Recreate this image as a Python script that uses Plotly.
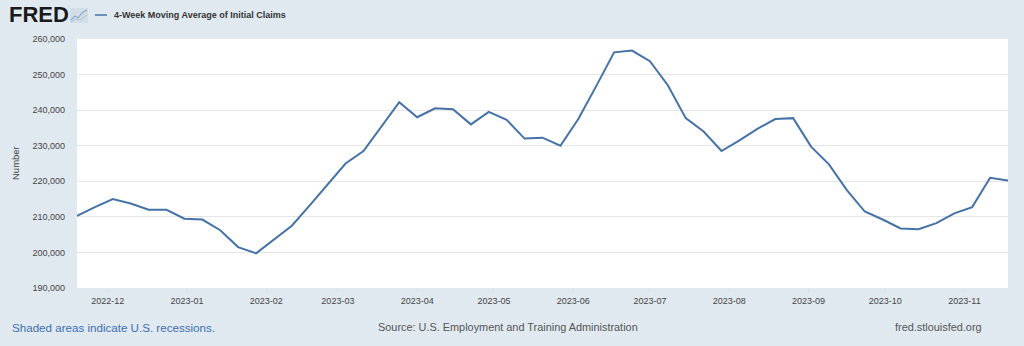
import pandas as pd
import plotly.graph_objects as go

# Weekly observations (week ending Saturday), 4-week moving average of initial claims
start_week = "2022-11-19"
n_weeks = 53
claims = [
    210250, 212750, 215000, 213750, 212000, 212000, 209500, 209250, 206250, 201500,
    199750, 203500, 207500, 213250, 219000, 225000, 228500, 235500, 242250, 238000,
    240500, 240250, 236000, 239500, 237250, 232000, 232250, 230000, 237500, 246750,
    256250, 256750, 253750, 247000, 237750, 234000, 228500, 231500, 234750, 237500,
    237750, 229750, 224750, 217500, 211500, 209250, 206750, 206500, 208250, 211000,
    212750, 221000, 220250,
]
weeks = pd.date_range(start_week, periods=n_weeks, freq="7D")

series_name = "4-Week Moving Average of Initial Claims"
y_title = "Number"
y_range = [190000, 260000]
x_range = ["2022-11-19", "2023-11-18"]
footer_left = "Shaded areas indicate U.S. recessions."
footer_mid = "Source: U.S. Employment and Training Administration"
footer_right = "fred.stlouisfed.org"

W, H = 1024, 346
ML, MR, MT, MB = 77, 16, 39, 58
PW, PH = W - ML - MR, H - MT - MB

FONT = "Liberation Sans, Arial, sans-serif"
LINE_BLUE = "#4572a7"
BG = "#e1e9f0"


def px(x):
    return (x - ML) / PW


def py(y):
    return (H - MB - y) / PH


fig = go.Figure()
fig.add_trace(go.Scatter(
    x=weeks, y=claims, mode="lines",
    line=dict(color=LINE_BLUE, width=2),
    name=series_name, showlegend=False,
))

shapes = [
    # legend swatch
    dict(type="line", xref="paper", yref="paper",
         x0=px(95), x1=px(107), y0=py(15), y1=py(15),
         line=dict(color=LINE_BLUE, width=1.5)),
    # small graph icon beside the logo
    dict(type="rect", xref="paper", yref="paper",
         x0=px(70), x1=px(88), y0=py(23), y1=py(8),
         fillcolor="#d3dde8", line=dict(width=0)),
    dict(type="path", xref="paper", yref="paper",
         path=f"M {px(71)},{py(20)} L {px(75)},{py(16)} L {px(78)},{py(18)} L {px(82)},{py(13)} L {px(87)},{py(10)}",
         line=dict(color="#8fa9c6", width=1.2)),
    dict(type="path", xref="paper", yref="paper",
         path=f"M {px(71)},{py(22)} L {px(76)},{py(19)} L {px(80)},{py(20)} L {px(87)},{py(15)}",
         line=dict(color="#b5c3d1", width=1)),
]

annotations = [
    dict(text="<b>FRED</b>", x=px(7), y=py(14), xref="paper", yref="paper",
         xanchor="left", yanchor="middle", showarrow=False,
         font=dict(family=FONT, size=22, color="#1b1b1b")),
    dict(text=f"<b>{series_name}</b>", x=px(112), y=py(15), xref="paper", yref="paper",
         xanchor="left", yanchor="middle", showarrow=False,
         font=dict(family=FONT, size=9, color="#333333")),
    dict(text=y_title, x=px(15), y=py(163), xref="paper", yref="paper",
         xanchor="center", yanchor="middle", showarrow=False, textangle=-90,
         font=dict(family=FONT, size=9.5, color="#444444")),
    dict(text=footer_left, x=px(10), y=py(327), xref="paper", yref="paper",
         xanchor="left", yanchor="middle", showarrow=False,
         font=dict(family=FONT, size=11.6, color="#3b6eb0")),
    dict(text=footer_mid, x=px(508), y=py(327), xref="paper", yref="paper",
         xanchor="center", yanchor="middle", showarrow=False,
         font=dict(family=FONT, size=10.9, color="#555555")),
    dict(text=footer_right, x=px(984), y=py(327), xref="paper", yref="paper",
         xanchor="right", yanchor="middle", showarrow=False,
         font=dict(family=FONT, size=10.9, color="#555555")),
]

fig.update_layout(
    width=W, height=H,
    margin=dict(l=ML, r=MR, t=MT, b=MB),
    paper_bgcolor=BG, plot_bgcolor="white",
    font=dict(family=FONT, size=9, color="#444444"),
    shapes=shapes, annotations=annotations,
    hovermode=False,
)
fig.update_xaxes(
    range=x_range, type="date",
    dtick="M1", tick0="2022-12-01", tickformat="%Y-%m",
    showgrid=False, zeroline=False, showline=False,
    ticks="outside", ticklen=4, tickcolor="#d8dee6",
    tickfont=dict(size=9, color="#444444"),
)
fig.update_yaxes(
    range=y_range, dtick=10000, tickformat=",",
    showgrid=True, gridcolor="#e6e6e6", gridwidth=1,
    zeroline=False, showline=False, ticks="",
    ticklabelstandoff=11,
    tickfont=dict(size=9, color="#444444"),
)

fig.write_html("out.html", config={"displayModeBar": False})
